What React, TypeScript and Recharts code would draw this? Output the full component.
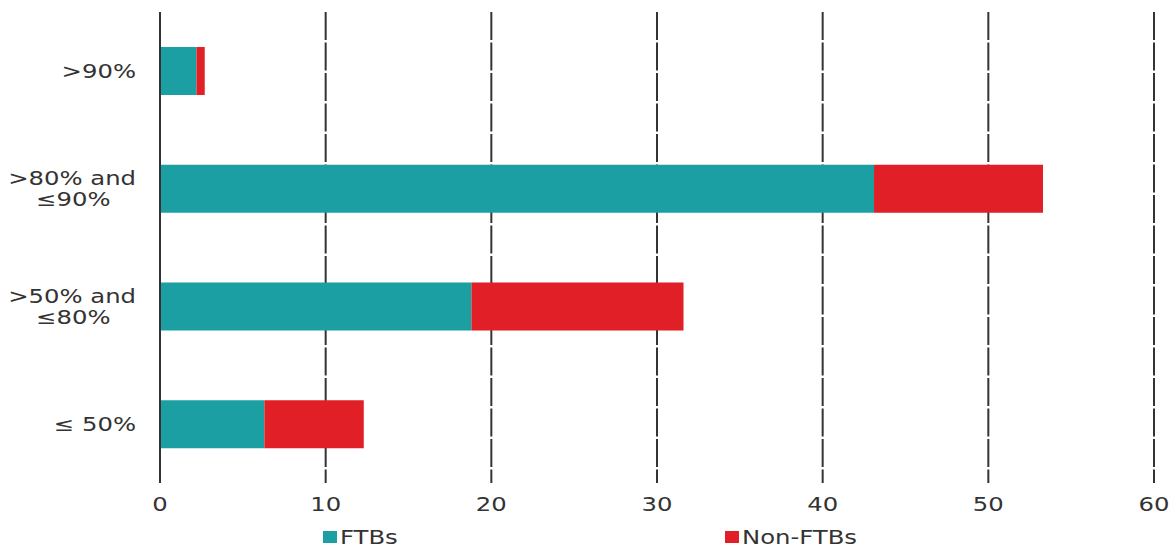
import { BarChart, Bar, XAxis, YAxis, CartesianGrid, Legend } from "recharts";

// LTV bands, top to bottom
const bands = [">90%", ">80% and\n≤90%", ">50% and\n≤80%", "≤ 50%"];
const ftbs = [2.2, 43.1, 18.8, 6.3];
const nonFtbs = [0.5, 10.2, 12.8, 6.0];
const xTicks = [0, 10, 20, 30, 40, 50, 60];

const TEAL = "#1b9fa3";
const RED = "#e01f27";
const INK = "#333333";
const FONT = "'DejaVu Sans', sans-serif";
const FS = 19;
const STRETCH = 1.28;

const data = bands.map((band, i) => ({
  band,
  ftbs: ftbs[i],
  nonFtbs: nonFtbs[i],
}));

// the source font is a wide one, so stretch the text sideways
const BandTick = (props: any) => {
  const { x, y, payload } = props;
  const lines: string[] = String(payload.value).split("\n");
  if (lines.length === 1) {
    return (
      <text
        transform={`translate(${x},${y}) scale(${STRETCH},1)`}
        dy="0.35em"
        textAnchor="end"
        fill={INK}
        fontSize={FS}
        fontFamily={FONT}
      >
        {lines[0]}
      </text>
    );
  }
  return (
    <g transform={`translate(${x},${y}) scale(${STRETCH},1)`}>
      <text fill={INK} fontSize={FS} fontFamily={FONT}>
        <tspan x={0} y={-10.5} dy="0.35em" textAnchor="end">{lines[0]}</tspan>
        <tspan x={-49} y={10.5} dy="0.35em" textAnchor="middle">{lines[1]}</tspan>
      </text>
    </g>
  );
};

const NumTick = (props: any) => {
  const { x, y, payload } = props;
  return (
    <text
      transform={`translate(${x},${y}) scale(${STRETCH},1)`}
      dy="0.71em"
      textAnchor="middle"
      fill={INK}
      fontSize={FS}
      fontFamily={FONT}
    >
      {payload.value}
    </text>
  );
};

const legendItems = [
  { label: "FTBs", color: TEAL, left: 323 },
  { label: "Non-FTBs", color: RED, left: 725 },
];

const LegendBox = () => (
  <div style={{ position: "relative", height: 22, fontFamily: FONT, fontSize: FS, color: INK }}>
    {legendItems.map((item) => (
      <div
        key={item.label}
        style={{ position: "absolute", left: item.left, top: 13, display: "flex", alignItems: "center", lineHeight: "22px" }}
      >
        <span style={{ width: 14, height: 12, background: item.color, display: "inline-block", marginRight: 3 }} />
        <span style={{ display: "inline-block", transform: `scaleX(${STRETCH})`, transformOrigin: "left center" }}>
          {item.label}
        </span>
      </div>
    ))}
  </div>
);

export default function App() {
  return (
    <div style={{ position: "absolute", left: 0, top: 0 }}>
      <BarChart
        width={1175}
        height={549}
        data={data}
        layout="vertical"
        margin={{ top: 12, right: 21, left: 0, bottom: 14 }}
        barSize={48}
      >
        <CartesianGrid
          horizontal={false}
          stroke={INK}
          strokeWidth={2}
          strokeDasharray="28 2.5"
        />
        <XAxis
          type="number"
          domain={[0, 60]}
          ticks={xTicks}
          axisLine={false}
          tickLine={false}
          tickSize={6}
          tickMargin={9}
          height={30}
          tick={<NumTick />}
        />
        <YAxis
          type="category"
          dataKey="band"
          width={160}
          axisLine={{ stroke: INK, strokeWidth: 2 }}
          tickLine={false}
          tickSize={0}
          tickMargin={24}
          tick={<BandTick />}
        />
        <Legend verticalAlign="bottom" content={<LegendBox />} wrapperStyle={{ left: 0, width: 1175 }} />
        <Bar dataKey="ftbs" name="FTBs" stackId="a" fill={TEAL} isAnimationActive={false} />
        <Bar dataKey="nonFtbs" name="Non-FTBs" stackId="a" fill={RED} isAnimationActive={false} />
      </BarChart>
    </div>
  );
}
